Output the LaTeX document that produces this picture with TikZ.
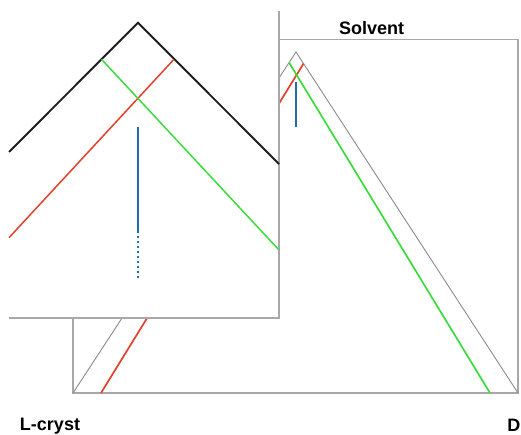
\documentclass[tikz,border=0pt]{standalone}
\usepackage{fontspec}
\setmainfont{Liberation Sans}
\usetikzlibrary{calc}

\definecolor{framegray}{HTML}{A8A8A8}
\definecolor{sidegray}{HTML}{8A8A8A}
\definecolor{tieRed}{HTML}{E4412B}
\definecolor{tieGreen}{HTML}{3DDC3D}
\definecolor{pathBlue}{HTML}{1F6DB3}
\definecolor{zoomBlack}{HTML}{1E1E1E}

\tikzset{
  frame/.style={draw=framegray, line width=1.3pt},
  side/.style={draw=sidegray, line width=0.9pt},
  redline/.style={draw=tieRed, line width=1.7pt},
  greenline/.style={draw=tieGreen, line width=1.7pt},
  blueline/.style={draw=pathBlue, line width=2.8pt},
  zoomside/.style={draw=zoomBlack, line width=1.9pt, line join=miter},
  corner/.style={font=\bfseries\fontsize{18}{20}\selectfont, inner sep=0pt},
}

\begin{document}
\begin{tikzpicture}[x=1pt, y=-1pt]
  \useasboundingbox (0,0) rectangle (521,435);

  % ---- ternary diagram ----
  \coordinate (boxNW) at (73,39.5);
  \coordinate (boxSE) at (518,393);
  \coordinate (L) at (73,393);
  \coordinate (S) at (296,52);
  \coordinate (D) at (518,393);
  \coordinate (redA) at (101,393);
  \coordinate (redB) at ($(S)!0.034!(D)$);
  \coordinate (greenA) at ($(S)!0.031!(L)$);
  \coordinate (greenB) at (490,393);
  \coordinate (blueA) at (296,82);
  \coordinate (blueB) at (296,127);

  \draw[frame] (boxNW) rectangle (boxSE);
  \draw[side] (L) -- (S) -- (D);
  \draw[redline] (redA) -- (redB);
  \draw[greenline] (greenA) -- (greenB);
  \draw[blueline] (blueA) -- (blueB);

  \node[corner, anchor=base] (solv) at (371.5,34.5) {Solvent};
  \node[corner, anchor=base] (lcr) at (50,430) {L-cryst};
  \node[corner, anchor=base east] (dlab) at (520.5,431) {D};

  % ---- enlarged view of the apex ----
  \coordinate (zSE) at (279,318);
  \fill[white] (-2,-2) rectangle (zSE);
  \draw[frame] (279,11) -- (zSE) -- (9,318);

  \coordinate (zL) at (9,152);
  \coordinate (zS) at (138,22.7);
  \coordinate (zD) at (279,164);
  \coordinate (zRedA) at (9,237.7);
  \coordinate (zRedB) at (174,59.3);
  \coordinate (zGreenA) at (101.5,59.3);
  \coordinate (zGreenB) at (279,250);

  \draw[zoomside] (zL) -- (zS) -- (zD);
  \draw[redline, line width=1.5pt] (zRedA) -- (zRedB);
  \draw[greenline, line width=1.5pt] (zGreenA) -- (zGreenB);

  % dense and sparse parts of the sampled path
  \coordinate (zBlueTop) at (138,127);
  \coordinate (zBlueMid) at (138,233);
  \draw[draw=pathBlue, line width=2.6pt] (zBlueTop) -- (zBlueMid);
  \foreach \yy in {237,242,247,252,257,262,267,272,277}
    \fill[pathBlue] (136.8,\yy-1) rectangle (139.2,\yy+1);
\end{tikzpicture}
\end{document}
